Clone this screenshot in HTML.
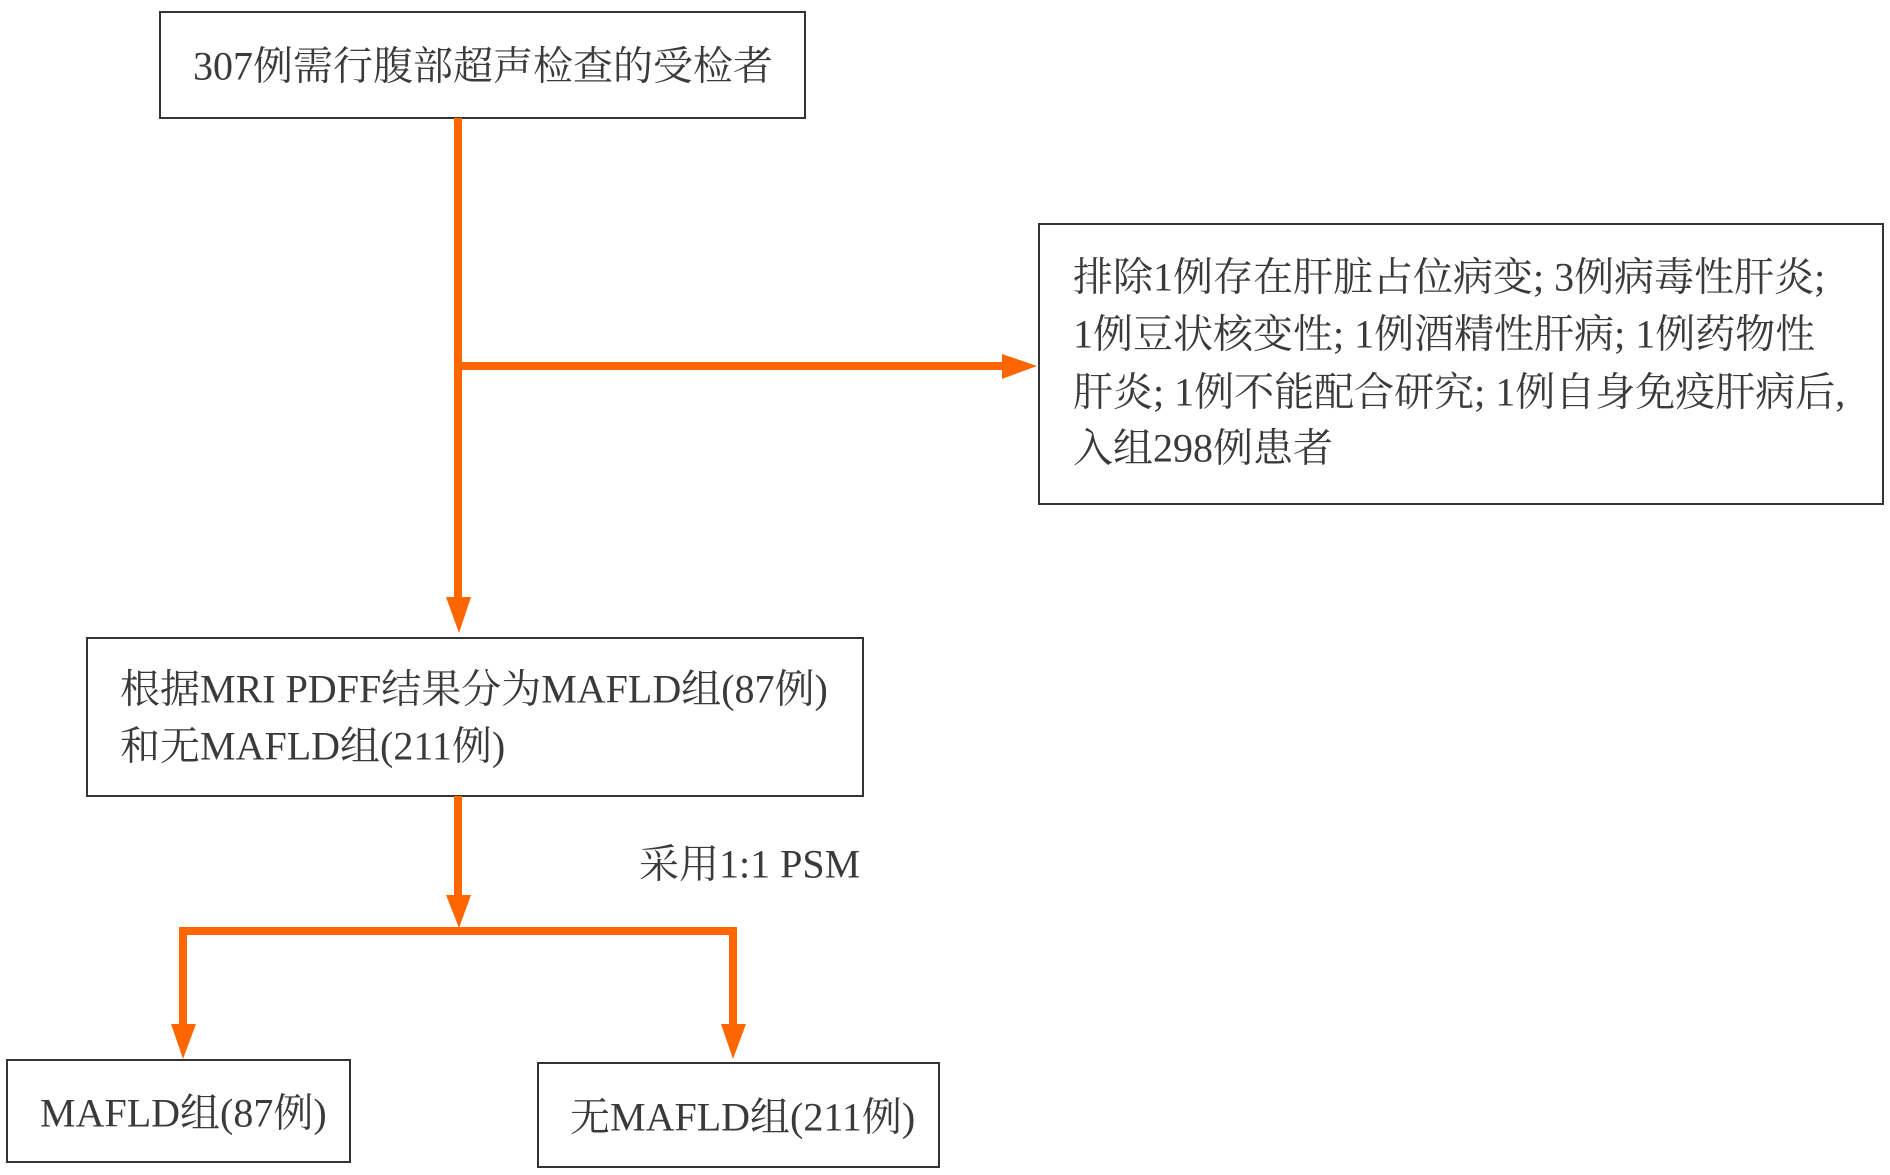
<!DOCTYPE html>
<html><head><meta charset="utf-8"><style>html,body{margin:0;padding:0;background:#fff;}svg{display:block}</style></head>
<body>
<svg width="1890" height="1175" xmlns="http://www.w3.org/2000/svg" font-family="'Liberation Serif','Noto Serif CJK SC',serif" font-size="40" fill="#3a3a3a">
<g fill="none" stroke="#333" stroke-width="2">
<rect x="160" y="12" width="645" height="106"/>
<rect x="1039" y="224" width="844" height="280"/>
<rect x="87" y="638" width="776" height="158"/>
<rect x="7" y="1060" width="343" height="102"/>
<rect x="538" y="1063" width="401" height="104"/>
</g>
<g stroke="#ff6600" stroke-width="8" fill="none">
<line x1="458" y1="118" x2="458" y2="600"/>
<line x1="458" y1="366" x2="1005" y2="366"/>
<line x1="458" y1="796" x2="458" y2="900"/>
<polyline points="183,1025 183,931 733,931 733,1025"/>
</g>
<g fill="#ff6600">
<polygon points="446,597 471,597 459,633"/>
<polygon points="1002,354 1002,379 1037,366"/>
<polygon points="446,895 471,895 459,928"/>
<polygon points="171,1024 196,1024 183,1059"/>
<polygon points="721,1024 746,1024 733,1059"/>
</g>
<g dominant-baseline="central">
<text x="193" y="66">307例需行腹部超声检查的受检者</text>
<text x="1073" y="277">排除1例存在肝脏占位病变; 3例病毒性肝炎;</text>
<text x="1073" y="334">1例豆状核变性; 1例酒精性肝病; 1例药物性</text>
<text x="1073" y="392">肝炎; 1例不能配合研究; 1例自身免疫肝病后,</text>
<text x="1073" y="448">入组298例患者</text>
<text x="120" y="689">根据MRI PDFF结果分为MAFLD组(87例)</text>
<text x="120" y="746">和无MAFLD组(211例)</text>
<text x="639" y="864">采用1:1 PSM</text>
<text x="40" y="1113">MAFLD组(87例)</text>
<text x="570" y="1117">无MAFLD组(211例)</text>
</g>
</svg>
</body></html>
